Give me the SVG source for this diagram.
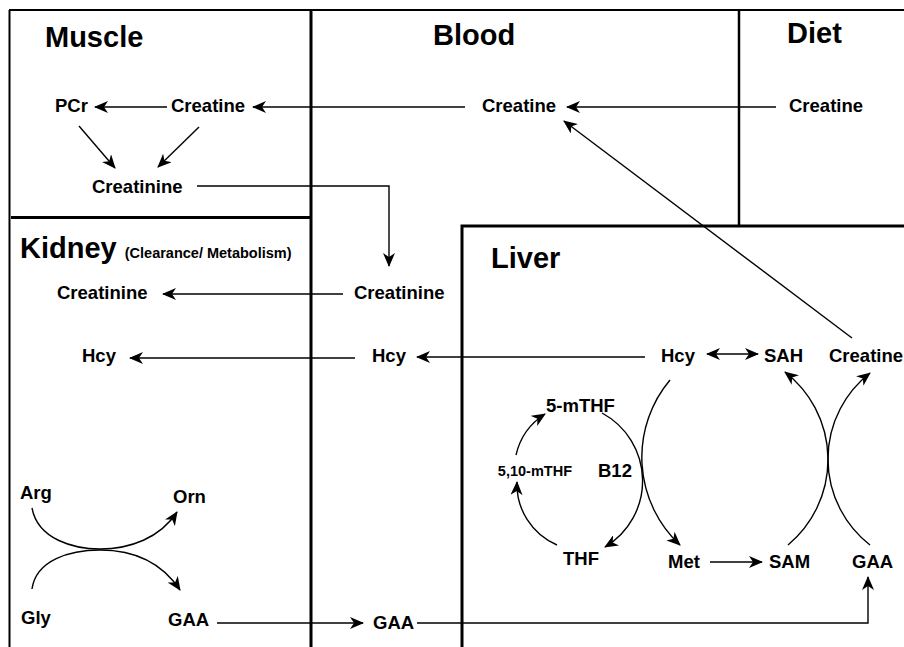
<svg xmlns="http://www.w3.org/2000/svg" width="904" height="647" viewBox="0 0 904 647">
<style>
.t{font-family:"Liberation Sans",Arial,sans-serif;font-weight:bold;fill:#000}
.title{font-size:29px}
.n{font-size:18.5px}
.sm{font-size:14.5px}
.sub{font-size:14.5px}
.frame{fill:none;stroke:#000;stroke-width:2}
.thick{fill:none;stroke:#000;stroke-width:3}
.c{fill:none;stroke:#000;stroke-width:1.4}
.a{marker-end:url(#ah)}
</style>
<defs>
<marker id="ah" viewBox="0 0 14 12" refX="13" refY="6" markerWidth="14" markerHeight="12" markerUnits="userSpaceOnUse" orient="auto-start-reverse">
<path d="M0,0 L14,6 L0,12 L4,6 z" fill="#000"/>
</marker>
</defs>
<g id="frame">
<path class="frame" d="M9,10 H904 M9.5,10 V647"/>
<path class="thick" d="M11,217.5 H311 M311,10 V647 M904,226 H462 V647"/>
<path d="M739,10 V225" fill="none" stroke="#000" stroke-width="2.5"/>
</g>
<g id="titles">
<text class="t title" x="45" y="47">Muscle</text>
<text class="t title" x="433" y="45">Blood</text>
<text class="t title" x="787" y="43">Diet</text>
<text class="t title" x="20" y="258">Kidney <tspan class="sub">(Clearance/ Metabolism)</tspan></text>
<text class="t title" x="491" y="268">Liver</text>
</g>
<g id="muscle-pcr"><text class="t n" x="55" y="112">PCr</text></g>
<g id="muscle-creatine"><text class="t n" x="171" y="112">Creatine</text></g>
<g id="muscle-creatinine"><text class="t n" x="92" y="193">Creatinine</text></g>
<g id="blood-creatine"><text class="t n" x="482" y="112">Creatine</text></g>
<g id="diet-creatine"><text class="t n" x="789" y="112">Creatine</text></g>
<g id="blood-creatinine"><text class="t n" x="354" y="299">Creatinine</text></g>
<g id="kidney-creatinine"><text class="t n" x="57" y="299">Creatinine</text></g>
<g id="blood-hcy"><text class="t n" x="372" y="362">Hcy</text></g>
<g id="kidney-hcy"><text class="t n" x="82" y="362">Hcy</text></g>
<g id="liver-hcy"><text class="t n" x="661" y="362">Hcy</text></g>
<g id="liver-sah"><text class="t n" x="764" y="362">SAH</text></g>
<g id="liver-creatine"><text class="t n" x="829" y="362" font-size="18px">Creatine</text></g>
<g id="liver-5mthf"><text class="t n" x="546" y="412">5-mTHF</text></g>
<g id="liver-510mthf"><text class="t sm" x="572" y="476" text-anchor="end">5,10-mTHF</text></g>
<g id="liver-b12"><text class="t n" x="598" y="477">B12</text></g>
<g id="liver-thf"><text class="t n" x="563" y="565">THF</text></g>
<g id="liver-met"><text class="t n" x="668" y="568">Met</text></g>
<g id="liver-sam"><text class="t n" x="769" y="568">SAM</text></g>
<g id="liver-gaa"><text class="t n" x="852" y="568">GAA</text></g>
<g id="kidney-arg"><text class="t n" x="20" y="499">Arg</text></g>
<g id="kidney-orn"><text class="t n" x="173" y="503">Orn</text></g>
<g id="kidney-gly"><text class="t n" x="21" y="624">Gly</text></g>
<g id="kidney-gaa"><text class="t n" x="168" y="626">GAA</text></g>
<g id="blood-gaa"><text class="t n" x="373" y="629">GAA</text></g>
<g id="connectors">
<path class="c a" d="M167,107 H95"/>
<path class="c a" d="M465,107 H253"/>
<path class="c a" d="M776,107 H567"/>
<path class="c a" d="M79,126 L115,168"/>
<path class="c a" d="M199,127 L158,167"/>
<path class="c a" d="M197,186 H389 V266"/>
<path class="c a" d="M343,294 H163"/>
<path class="c a" d="M645,357 H417"/>
<path class="c a" d="M355,358 H130"/>
<path class="c a" d="M852,338 L564,121"/>
<path class="c a" d="M707,354 H758" marker-start="url(#ah)"/>
<path class="c a" d="M710,562 H762"/>
<path class="c a" d="M788,545 A111,111 0 0 0 785,372"/>
<path class="c a" d="M870,545 A109,109 0 0 1 870,373"/>
<path class="c a" d="M602,413 A77,77 0 0 1 605,547"/>
<path class="c a" d="M670,380 A120,120 0 0 0 680,545"/>
<path class="c a" d="M516,455 A66,66 0 0 1 545,414"/>
<path class="c a" d="M557,545 A66,66 0 0 1 517,482"/>
<path class="c a" d="M32,508 C38,540 75,549 100,549 C130,549 160,538 177,512"/>
<path class="c a" d="M32,589 C36,560 70,550 100,550 C130,550 160,560 180,590"/>
<path class="c a" d="M217,623 H363"/>
<path class="c a" d="M417,623 H868 V577"/>
</g>
</svg>
